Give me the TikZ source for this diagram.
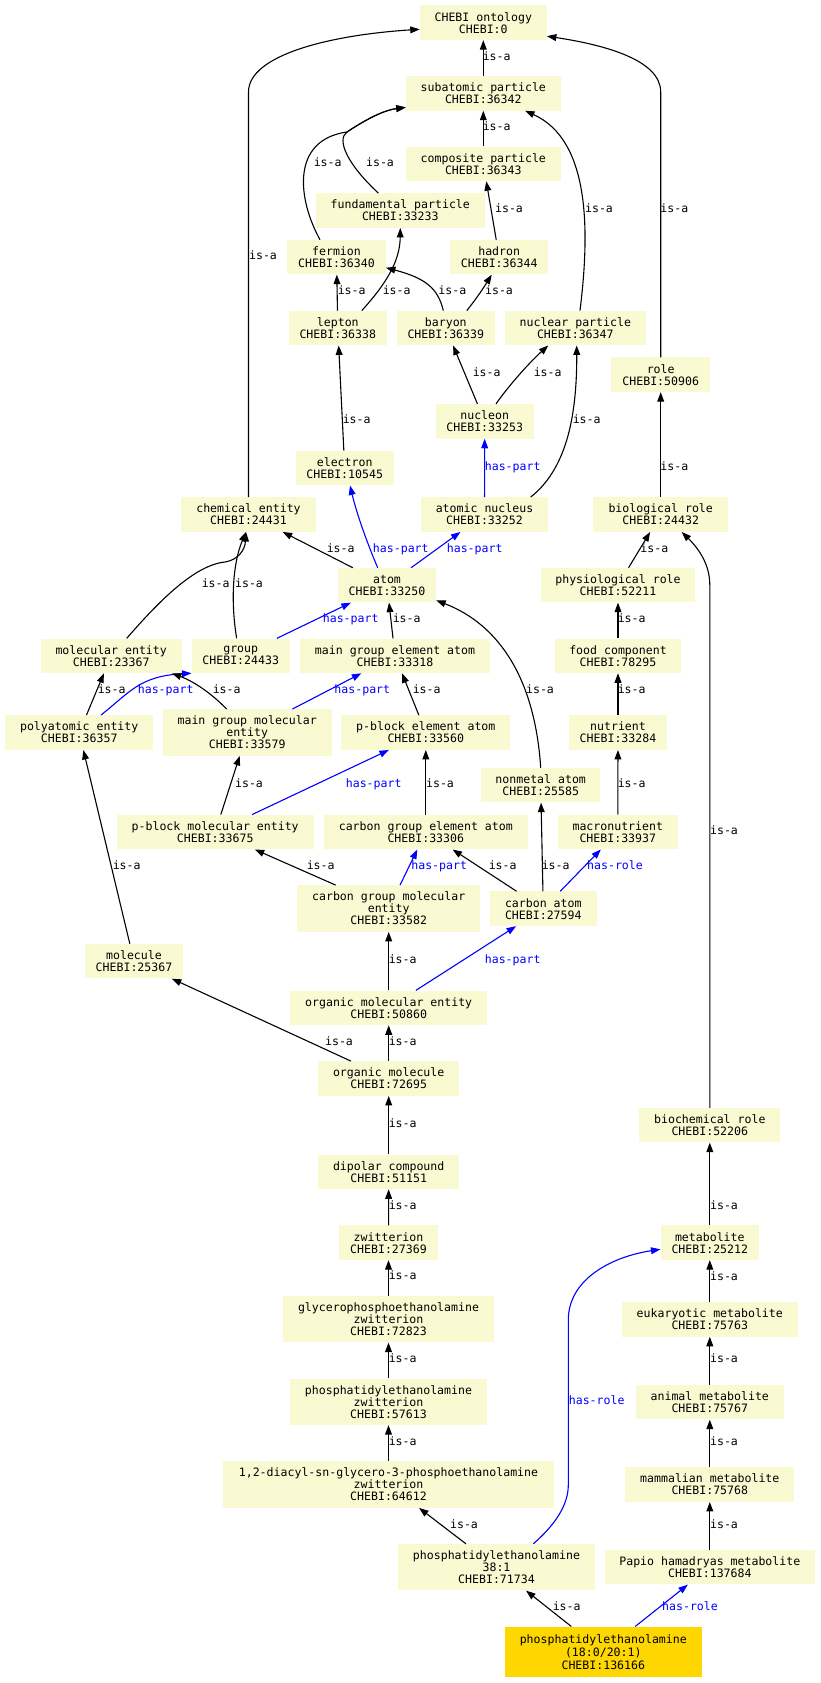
\documentclass[tikz,border=0pt]{standalone}
\usepackage{fontspec}
\setmonofont{DejaVu Sans Mono}
\usetikzlibrary{arrows.meta, calc}
\definecolor{termfill}{HTML}{FAFAD2}
\definecolor{termgold}{HTML}{FFD700}

\begin{document}
\begin{tikzpicture}[
    x=1pt, y=-1pt,
    term/.style={rectangle, fill=termfill, inner sep=0pt, minimum height=34.5pt, align=center,
      font=\ttfamily\fontsize{11.56}{12}\selectfont},
    term3/.style={term, minimum height=46.4pt},
    focus/.style={term, fill=termgold, minimum height=50.3pt, font=\ttfamily\fontsize{11.56}{13}\selectfont},
    isa/.style={-{Triangle[length=9.5pt, width=6.8pt]}, line width=1.1pt},
    rel/.style={isa, blue},
    lbl/.style={font=\ttfamily\fontsize{11.56}{12}\selectfont, inner sep=0pt, text height=8pt, text depth=2pt}
  ]
  \path[fill=white] (0,0) rectangle (821,1683);
  \useasboundingbox (0,0) rectangle (821,1683);

  % particles
  \node[term, minimum width=126.7pt] (onto) at (483.3,22.7) {CHEBI ontology\\CHEBI:0};
  \node[term, minimum width=154.7pt] (subatomic) at (483.3,93.3) {subatomic particle\\CHEBI:36342};
  \node[term, minimum width=154.7pt] (composite) at (483.3,163.8) {composite particle\\CHEBI:36343};
  \node[term, minimum width=169.3pt] (fundamental) at (400.3,210.5) {fundamental particle\\CHEBI:33233};
  \node[term, minimum width=98.4pt] (fermion) at (336.5,257.2) {fermion\\CHEBI:36340};
  \node[term, minimum width=98.3pt] (hadron) at (499.2,257.2) {hadron\\CHEBI:36344};
  \node[term, minimum width=98.3pt] (lepton) at (337.8,328) {lepton\\CHEBI:36338};
  \node[term, minimum width=98.3pt] (baryon) at (445.8,328) {baryon\\CHEBI:36339};
  \node[term, minimum width=140.7pt] (nuclear) at (575.3,328) {nuclear particle\\CHEBI:36347};
  \node[term, minimum width=98.7pt] (role) at (660.7,374.7) {role\\CHEBI:50906};
  \node[term, minimum width=98pt] (nucleon) at (484.7,421.3) {nucleon\\CHEBI:33253};
  \node[term, minimum width=98pt] (electron) at (344.7,468) {electron\\CHEBI:10545};
  \node[term, minimum width=134.4pt] (chem) at (248.5,514.5) {chemical entity\\CHEBI:24431};
  \node[term, minimum width=126.4pt] (nucleus) at (484.5,514.5) {atomic nucleus\\CHEBI:33252};
  \node[term, minimum width=134.7pt] (biorole) at (660.7,514.5) {biological role\\CHEBI:24432};

  % atoms and entities
  \node[term, minimum width=98pt] (atom) at (387,585.2) {atom\\CHEBI:33250};
  \node[term, minimum width=154pt] (physrole) at (618,585.2) {physiological role\\CHEBI:52211};
  \node[term, minimum width=141pt] (molent) at (111.2,655.8) {molecular entity\\CHEBI:23367};
  \node[term, minimum width=98pt] (group) at (240.7,655.8) {group\\CHEBI:24433};
  \node[term, minimum width=190pt] (mgatom) at (395,655.8) {main group element atom\\CHEBI:33318};
  \node[term, minimum width=126pt] (food) at (618,655.8) {food component\\CHEBI:78295};
  \node[term, minimum width=147.7pt] (polyat) at (79.2,732.5) {polyatomic entity\\CHEBI:36357};
  \node[term3, minimum width=169pt] (mgmol) at (247.2,732.5) {main group molecular\\entity\\CHEBI:33579};
  \node[term, minimum width=169pt] (pbatom) at (425.8,732.5) {p-block element atom\\CHEBI:33560};
  \node[term, minimum width=98pt] (nutrient) at (618,732.5) {nutrient\\CHEBI:33284};
  \node[term, minimum width=119.3pt] (nonmetal) at (540.7,785.2) {nonmetal atom\\CHEBI:25585};
  \node[term, minimum width=197pt] (pbmol) at (215.2,832) {p-block molecular entity\\CHEBI:33675};
  \node[term, minimum width=203.7pt] (cgatom) at (425.8,832) {carbon group element atom\\CHEBI:33306};
  \node[term, minimum width=119.7pt] (macro) at (617.8,832) {macronutrient\\CHEBI:33937};
  \node[term3, minimum width=182.7pt] (cgmol) at (388.7,908.5) {carbon group molecular\\entity\\CHEBI:33582};
  \node[term, minimum width=106.7pt] (carbon) at (543.3,908.7) {carbon atom\\CHEBI:27594};
  \node[term, minimum width=98pt] (molecule) at (134,961.2) {molecule\\CHEBI:25367};
  \node[term, minimum width=197.3pt] (orgment) at (388.7,1007.8) {organic molecular entity\\CHEBI:50860};
  \node[term, minimum width=140.7pt] (orgmol) at (388.7,1078.5) {organic molecule\\CHEBI:72695};

  % lipids and metabolites
  \node[term, minimum width=141pt] (biochem) at (709.8,1125.2) {biochemical role\\CHEBI:52206};
  \node[term, minimum width=140.7pt] (dipolar) at (388.7,1171.8) {dipolar compound\\CHEBI:51151};
  \node[term, minimum width=98.3pt] (metab) at (709.8,1242.7) {metabolite\\CHEBI:25212};
  \node[term, minimum width=98.4pt] (zwit) at (388.5,1242.7) {zwitterion\\CHEBI:27369};
  \node[term3, minimum width=210.4pt] (gpezw) at (388.5,1319.2) {glycerophosphoethanolamine\\zwitterion\\CHEBI:72823};
  \node[term, minimum width=175.7pt] (eukmet) at (709.8,1319.3) {eukaryotic metabolite\\CHEBI:75763};
  \node[term3, minimum width=197pt] (pezw) at (388.5,1401.7) {phosphatidylethanolamine\\zwitterion\\CHEBI:57613};
  \node[term, minimum width=147.7pt] (animet) at (709.8,1402.2) {animal metabolite\\CHEBI:75767};
  \node[term3, minimum width=330.4pt] (diacyl) at (388.5,1484.5) {1,2-diacyl-sn-glycero-3-phosphoethanolamine\\zwitterion\\CHEBI:64612};
  \node[term, minimum width=169pt] (mammet) at (709.8,1484.5) {mammalian metabolite\\CHEBI:75768};
  \node[term3, minimum width=197pt] (pe381) at (496.5,1567.2) {phosphatidylethanolamine\\38:1\\CHEBI:71734};
  \node[term, minimum width=210.3pt] (papio) at (709.8,1567.2) {Papio hamadryas metabolite\\CHEBI:137684};
  \node[focus, minimum width=196.7pt] (target) at (603.3,1651.8) {phosphatidylethanolamine\\(18:0/20:1)\\CHEBI:136166};

  % edges
  \draw[isa] (subatomic) -- (onto) node[lbl] at (496.7,57.3) {is-a};
  \draw[isa] (chem.north) -- (248.5,92) .. controls (248.5,55) and (330,35) .. ($(onto.west)+(0,6.6)$) node[lbl] at (263,256) {is-a};
  \draw[isa] (role.north) -- (660.7,92) .. controls (660.7,60) and (605,45) .. ($(onto.south east)+(0,-4)$) node[lbl] at (674.3,209.3) {is-a};
  \draw[isa] (composite) -- (subatomic) node[lbl] at (496.7,127.3) {is-a};
  \draw[isa] ($(fermion.north)+(-16.5,0)$) .. controls (298,200) and (290,140) .. (347,132) .. controls (368,118) and (385,110) .. ($(subatomic.south west)+(0,-3.3)$) node[lbl] at (327.7,163.3) {is-a};
  \draw[isa] ($(fundamental.north)+(-22,0)$) .. controls (348,165) and (336,140) .. (347,132) .. controls (368,118) and (385,110) .. ($(subatomic.south west)+(0,-3.3)$) node[lbl] at (380,163.3) {is-a};
  \draw[isa] ($(nuclear.north)+(4.7,0)$) .. controls (590,230) and (590,140) .. ($(subatomic.south)+(41.7,0)$) node[lbl] at (599,209.3) {is-a};
  \draw[isa] (hadron) -- (composite) node[lbl] at (509,209.3) {is-a};
  \draw[isa] (lepton) -- (fermion) node[lbl] at (351.7,291.7) {is-a};
  \draw[isa] ($(lepton.north)+(24,0)$) .. controls (385,285) and (400,262) .. (fundamental.south) node[lbl] at (396.7,291.7) {is-a};
  \draw[isa] ($(baryon.north)+(-2.5,0)$) .. controls (438,288) and (425,278) .. ($(fermion.east)+(0,10.5)$) node[lbl] at (452.3,291.7) {is-a};
  \draw[isa] ($(baryon.north)+(21,0)$) .. controls (477,298) and (484,287) .. ($(hadron.south)+(-7.5,0)$) node[lbl] at (499,291.7) {is-a};
  \draw[isa] (nucleon) -- (baryon) node[lbl] at (486.7,373.3) {is-a};
  \draw[isa] ($(nucleon.north)+(11.3,0)$) .. controls (510,384) and (530,362) .. ($(nuclear.south)+(-27,0)$) node[lbl] at (547.7,373.3) {is-a};
  \draw[isa] (electron) -- (lepton) node[lbl] at (356.7,420) {is-a};
  \draw[isa] ($(nucleus.north)+(46.2,0)$) .. controls (565,470) and (577,420) .. ($(nuclear.south)+(1.4,0)$) node[lbl] at (586.7,420) {is-a};
  \draw[rel] (nucleus) -- (nucleon) node[lbl] at (512.7,467.3) {has-part};
  \draw[isa] (biorole) -- (role) node[lbl] at (674.3,467.3) {is-a};
  \draw[isa] (atom) -- (chem) node[lbl] at (340.7,549.3) {is-a};
  \draw[rel] ($(atom.north)+(-9.3,0)$) .. controls (368,545) and (357,515) .. ($(electron.south)+(5.3,0)$) node[lbl] at (400.8,549.3) {has-part};
  \draw[rel] (atom) -- (nucleus) node[lbl] at (474.7,549.3) {has-part};
  \draw[isa] (physrole) -- (biorole) node[lbl] at (654.3,549.3) {is-a};
  \draw[isa] (biochem.north) -- (709.8,585) .. controls (709.8,562) and (696,546) .. ($(biorole.south)+(21,0)$) node[lbl] at (724,831.3) {is-a};
  \draw[isa] ($(molent.north)+(15.5,0)$) .. controls (160,600) and (195,565) .. (225,562) .. controls (238,560) and (245,550) .. ($(chem.south)+(-2.5,0)$) node[lbl] at (215.7,584.3) {is-a};
  \draw[isa] ($(group.north)+(-4,0)$) .. controls (231,605) and (232,565) .. ($(chem.south)+(-2.5,0)$) node[lbl] at (249,584.3) {is-a};
  \draw[rel] (group) -- (atom) node[lbl] at (350.7,619.3) {has-part};
  \draw[isa] (mgatom) -- (atom) node[lbl] at (406.7,619.3) {is-a};
  \draw[isa] (food) -- (physrole) node[lbl] at (631.7,619.3) {is-a};
  \draw[isa] (polyat) -- (molent) node[lbl] at (111.7,690) {is-a};
  \draw[rel] ($(polyat.north)+(21.8,0)$) .. controls (130,692) and (140,676) .. (group.south west) node[lbl] at (165.7,690) {has-part};
  \draw[isa] ($(mgmol.north)+(-20.5,0)$) .. controls (212,694) and (195,682) .. ($(molent.south east)+(-10,0)$) node[lbl] at (226.7,690) {is-a};
  \draw[rel] (mgmol) -- (mgatom) node[lbl] at (362.3,690) {has-part};
  \draw[isa] (pbatom) -- (mgatom) node[lbl] at (426.7,690) {is-a};
  \draw[isa] (nonmetal.north) .. controls (535,680) and (500,625) .. ($(atom.south east)+(0,-2.3)$) node[lbl] at (540,690) {is-a};
  \draw[isa] (nutrient) -- (food) node[lbl] at (631.7,690) {is-a};
  \draw[isa] (pbmol) -- (mgmol) node[lbl] at (249,784.3) {is-a};
  \draw[rel] (pbmol) -- (pbatom) node[lbl] at (373.7,784.3) {has-part};
  \draw[isa] (cgatom) -- (pbatom) node[lbl] at (440,784.3) {is-a};
  \draw[isa] (macro) -- (nutrient) node[lbl] at (631.7,784.3) {is-a};
  \draw[isa] (molecule) -- (polyat) node[lbl] at (126.7,866.3) {is-a};
  \draw[isa] (cgmol) -- (pbmol) node[lbl] at (320.7,866.3) {is-a};
  \draw[rel] (cgmol) -- (cgatom) node[lbl] at (439.2,866.3) {has-part};
  \draw[isa] (carbon) -- (cgatom) node[lbl] at (502.7,866.3) {is-a};
  \draw[isa] (carbon) -- (nonmetal) node[lbl] at (555.7,866.3) {is-a};
  \draw[rel] (carbon) -- (macro) node[lbl] at (615,866.3) {has-role};
  \draw[isa] (orgment) -- (cgmol) node[lbl] at (402.7,960) {is-a};
  \draw[rel] (orgment) -- (carbon) node[lbl] at (512.7,960) {has-part};
  \draw[isa] (orgmol) -- (molecule) node[lbl] at (339,1042.3) {is-a};
  \draw[isa] (orgmol) -- (orgment) node[lbl] at (402.7,1042.3) {is-a};
  \draw[isa] (dipolar) -- (orgmol) node[lbl] at (402.7,1124.3) {is-a};
  \draw[isa] (metab) -- (biochem) node[lbl] at (724,1206.3) {is-a};
  \draw[isa] (zwit) -- (dipolar) node[lbl] at (402.7,1206.3) {is-a};
  \draw[isa] (gpezw) -- (zwit) node[lbl] at (402.7,1276.7) {is-a};
  \draw[isa] (eukmet) -- (metab) node[lbl] at (724,1277.3) {is-a};
  \draw[isa] (pezw) -- (gpezw) node[lbl] at (402.7,1359) {is-a};
  \draw[isa] (animet) -- (eukmet) node[lbl] at (724,1359.3) {is-a};
  \draw[isa] (diacyl) -- (pezw) node[lbl] at (402.7,1442) {is-a};
  \draw[isa] (mammet) -- (animet) node[lbl] at (724,1442.3) {is-a};
  \draw[isa] (pe381) -- (diacyl) node[lbl] at (464,1525.7) {is-a};
  \draw[rel] ($(pe381.north)+(36.8,0)$) .. controls (555,1525) and (568.3,1505) .. (568.3,1485) -- (568.3,1320) .. controls (568.3,1280) and (610,1257) .. ($(metab.west)+(0,6.6)$) node[lbl] at (596.7,1401) {has-role};
  \draw[isa] (papio) -- (mammet) node[lbl] at (724,1525.7) {is-a};
  \draw[isa] (target) -- (pe381) node[lbl] at (566.7,1607.3) {is-a};
  \draw[rel] (target) -- (papio) node[lbl] at (690,1607.3) {has-role};
\end{tikzpicture}
\end{document}
